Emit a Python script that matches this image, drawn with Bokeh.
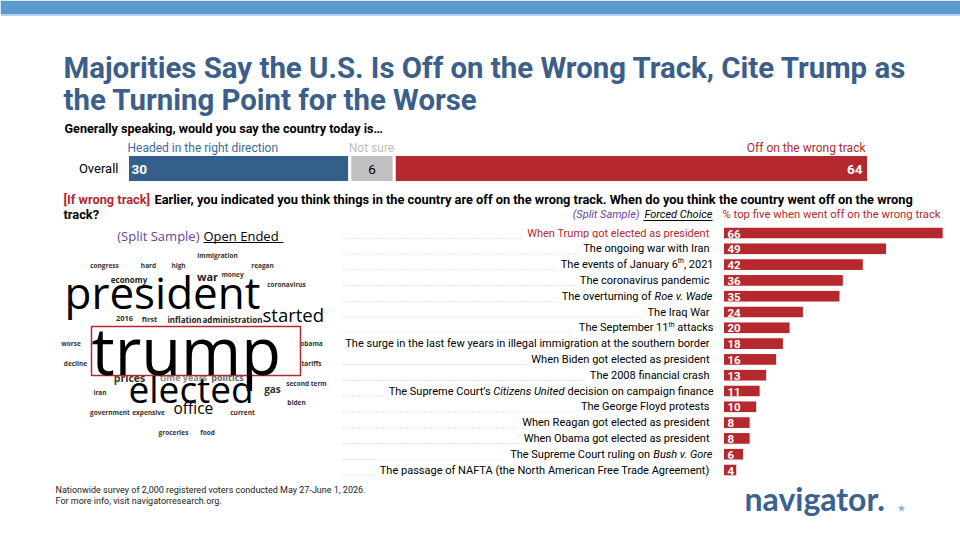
from bokeh.plotting import figure
from bokeh.models import Range1d
from bokeh.core.properties import value
from bokeh.embed import file_html
from bokeh.resources import INLINE

# ---------------- data ----------------
title_lines = ["Majorities Say the U.S. Is Off on the Wrong Track, Cite Trump as",
               "the Turning Point for the Worse"]
question_1 = "Generally speaking, would you say the country today is\u2026"
track_row = "Overall"
track_labels = ["Headed in the right direction", "Not sure", "Off on the wrong track"]
track_values = [30, 6, 64]

question_2_tag = "[If wrong track]"
question_2_lines = ["Earlier, you indicated you think things in the country are off on the wrong track. "
                    "When do you think the country went off on the wrong",
                    "track?"]

left_head = ["(Split Sample)", "Open Ended"]
right_head = ["(Split Sample)", "Forced Choice", "% top five when went off on the wrong track"]

event_labels = [
    "When Trump got elected as president",
    "The ongoing war with Iran",
    "The events of January 6th, 2021",
    "The coronavirus pandemic",
    "The overturning of Roe v. Wade",
    "The Iraq War",
    "The September 11th attacks",
    "The surge in the last few years in illegal immigration at the southern border",
    "When Biden got elected as president",
    "The 2008 financial crash",
    "The Supreme Court\u2019s Citizens United decision on campaign finance",
    "The George Floyd protests",
    "When Reagan got elected as president",
    "When Obama got elected as president",
    "The Supreme Court ruling on Bush v. Gore",
    "The passage of NAFTA (the North American Free Trade Agreement)",
]
event_values = [66, 49, 42, 36, 35, 24, 20, 18, 16, 13, 11, 10, 8, 8, 6, 4]

# rich-text runs (italic titles, superscript ordinals) for some labels
event_runs = {
    2: [("The events of January 6", "n"), ("th", "sup"), (", 2021", "n")],
    4: [("The overturning of ", "n"), ("Roe v. Wade", "i")],
    6: [("The September 11", "n"), ("th", "sup"), (" attacks", "n")],
    10: [("The Supreme Court\u2019s ", "n"), ("Citizens United", "i"),
         (" decision on campaign finance", "n")],
    14: [("The Supreme Court ruling on ", "n"), ("Bush v. Gore", "i")],
}

cloud_big_words = ["president", "trump", "elected", "started", "office"]
cloud_mid_words = ["war", "economy", "inflation", "administration", "2016", "first",
                   "prices", "time years", "politics", "gas"]
cloud_small_words = ["immigration", "congress", "hard", "high", "reagan", "money",
                     "coronavirus", "worse", "decline", "obama", "tariffs", "second term",
                     "iran", "biden", "government", "expensive", "current", "groceries", "food"]

footer_lines = ["Nationwide survey of 2,000 registered voters conducted May 27-June 1, 2026.",
                "For more info, visit navigatorresearch.org."]
logo_text = "navigator."

# ---------------- layout / style ----------------
W, H = 960, 540
SANS = value("Roboto")
HUMAN = value("Open Sans")
BLUE = "#355f8b"
RED = "#b5282e"
GREY = "#c0c0c0"
TITLE_C = "#3b5f8a"
PURPLE = "#6b3fa0"

# approximate Roboto advance widths (units of 1/2048 em) for placing rich-text runs
_RW = {" ": 507, ",": 393, ".": 528, "\u2019": 393, "'": 349, "(": 684, ")": 695, "-": 553}
_RW.update({d: 1150 for d in "0123456789"})
_RW.update(dict(zip("ABCDEFGHIJKLMNOPQRSTUVWXYZ",
                    [1336, 1275, 1333, 1343, 1164, 1132, 1395, 1460, 557, 1130, 1284, 1102,
                     1788, 1460, 1408, 1292, 1408, 1261, 1217, 1222, 1328, 1303, 1817, 1284,
                     1230, 1226])))
_RW.update(dict(zip("abcdefghijklmnopqrstuvwxyz",
                    [1114, 1149, 1072, 1155, 1085, 711, 1149, 1128, 497, 489, 1038, 497, 1795,
                     1130, 1168, 1149, 1164, 693, 1056, 669, 1129, 992, 1537, 1014, 969, 1014])))
STYLE_W = {"n": 1.0, "i": 0.97, "sup": 1.0}


def text_w(s, size, st="n"):
    return sum(_RW.get(c, 1100) for c in s) / 2048.0 * size * STYLE_W[st]


p = figure(width=W, height=H, x_range=Range1d(0, W), y_range=Range1d(H, 0),
           output_backend="svg", toolbar_location=None, min_border=0,
           background_fill_color="white", border_fill_color="white")
p.axis.visible = False
p.grid.visible = False
p.outline_line_color = None

# top band
p.quad(left=[0], right=[W], top=[0], bottom=[14], fill_color="#5b9bd0", line_color=None)
p.quad(left=[0], right=[W], top=[14], bottom=[15.5], fill_color="#b9d3ec", line_color=None)

# title
p.text(x=[63, 63], y=[67, 99.5], text=title_lines, text_font=SANS, text_font_style="bold",
       text_font_size="29.4px", text_color=TITLE_C, text_baseline="middle")

# ---- top stacked bar ----
TOP_X0, TOP_X1 = 127, 868
top_scale = (TOP_X1 - TOP_X0) / sum(track_values)
p.extra_x_ranges["top"] = Range1d(-TOP_X0 / top_scale, (W - TOP_X0) / top_scale)
rights = []
acc = 0
for v in track_values:
    acc += v
    rights.append(acc)
lefts = [r - v for r, v in zip(rights, track_values)]
BAR_Y = 168
p.hbar(y=[BAR_Y] * 3, left=lefts, right=rights, height=28, x_range_name="top",
       fill_color=[BLUE, GREY, RED], line_color="white", line_width=3)

p.text(x=[64], y=[128], text=[question_1], text_font=SANS, text_font_style="bold",
       text_font_size="12.6px", text_color="black", text_baseline="middle")
p.text(x=[118], y=[BAR_Y], text=[track_row], text_font=SANS, text_font_size="13px",
       text_color="black", text_align="right", text_baseline="middle")
# segment labels above bar
p.text(x=[lefts[0]], y=[147], text=[track_labels[0]], x_range_name="top", text_font=SANS,
       text_font_size="12px", text_color="#3e6b9a", text_baseline="middle")
p.text(x=[lefts[1]], y=[147], text=[track_labels[1]], x_range_name="top", text_font=SANS,
       text_font_size="12px", text_color="#bdbdbd", text_baseline="middle", x_offset=-1)
p.text(x=[rights[2]], y=[147], text=[track_labels[2]], x_range_name="top", text_font=SANS,
       text_font_size="12px", text_color=RED, text_baseline="middle", text_align="right",
       x_offset=-3)
# values inside bar
p.text(x=[lefts[0]], y=[BAR_Y + 1], text=[str(track_values[0])], x_range_name="top",
       text_font=SANS, text_font_style="bold", text_font_size="13.5px", text_color="white",
       text_baseline="middle", x_offset=4)
p.text(x=[(lefts[1] + rights[1]) / 2], y=[BAR_Y + 1], text=[str(track_values[1])],
       x_range_name="top", text_font=SANS, text_font_size="13.5px", text_color="black",
       text_baseline="middle", text_align="center")
p.text(x=[rights[2]], y=[BAR_Y + 1], text=[str(track_values[2])], x_range_name="top",
       text_font=SANS, text_font_style="bold", text_font_size="13.5px", text_color="white",
       text_baseline="middle", text_align="right", x_offset=-6)

# ---- second question ----
p.text(x=[63], y=[199], text=[question_2_tag], text_font=SANS, text_font_style="bold",
       text_font_size="12.8px", text_color=RED, text_baseline="middle")
p.text(x=[154, 63], y=[199, 214], text=question_2_lines, text_font=SANS,
       text_font_style="bold", text_font_size="12.8px", text_color="black",
       text_baseline="middle")

# right header
p.text(x=[639], y=[214], text=[right_head[0]], text_font=SANS, text_font_style="italic",
       text_font_size="11px", text_color=PURPLE, text_align="right", text_baseline="middle")
p.text(x=[712], y=[214], text=[right_head[1]], text_font=SANS, text_font_style="italic",
       text_font_size="11px", text_color="black", text_align="right", text_baseline="middle")
p.segment(x0=[643], x1=[712], y0=[220], y1=[220], line_color="black", line_width=1)
p.text(x=[722], y=[214], text=[right_head[2]], text_font=SANS, text_font_size="11.3px",
       text_color=RED, text_baseline="middle")

# ---- right bar chart ----
EV_X0, EV_XMAX = 723, 942.7
ev_scale = (EV_XMAX - EV_X0) / max(event_values)
p.extra_x_ranges["ev"] = Range1d(-EV_X0 / ev_scale, (W - EV_X0) / ev_scale)
ROW0, ROW_STEP = 232.5, 15.8
p.extra_y_ranges["rows"] = Range1d((H - ROW0) / ROW_STEP, -ROW0 / ROW_STEP)
idx = list(range(len(event_values)))
LBL_X, LBL_SIZE, SUP_SIZE = 713, 11.0, 7.0

# rich-text runs laid out right-to-left
run_x = {"n": [], "i": [], "sup": []}
run_y = {"n": [], "i": [], "sup": []}
run_t = {"n": [], "i": [], "sup": []}
dot_end = {}
sp = text_w(" ", LBL_SIZE)
for i, runs in event_runs.items():
    x = LBL_X
    for k, (txt, st) in enumerate(reversed(runs)):
        t = txt.strip()
        if txt.endswith(" "):
            x -= sp
        size = SUP_SIZE if st == "sup" else LBL_SIZE
        # italic glyphs lean right: pull a trailing italic run in by a pixel
        shift = 1 if (st == "i" and k == 0) else 0
        run_x[st].append(x - shift)
        run_y[st].append(i - 0.2 if st == "sup" else i)
        run_t[st].append(t)
        x -= text_w(t, size, st) + shift
        if txt.startswith(" "):
            x -= sp
    dot_end[i] = x - 5

p.segment(x0=[343] * len(idx), x1=[dot_end.get(i, LBL_X) for i in idx],
          y0=[i + 0.33 for i in idx], y1=[i + 0.33 for i in idx], y_range_name="rows",
          line_color="#c4c4c4", line_width=1, line_dash="1 2")

plain = [i for i in idx if i not in event_runs]
p.text(x=[LBL_X] * len(plain), y=plain, text=[event_labels[i] for i in plain],
       y_range_name="rows", text_font=SANS, text_font_size=f"{LBL_SIZE}px",
       text_color=[RED if i == 0 else "black" for i in plain], text_align="right",
       text_baseline="middle", background_fill_color="white", padding=4)
p.text(x=run_x["n"], y=run_y["n"], text=run_t["n"], y_range_name="rows", text_font=SANS,
       text_font_size=f"{LBL_SIZE}px", text_color="black", text_align="right",
       text_baseline="middle")
p.text(x=run_x["i"], y=run_y["i"], text=run_t["i"], y_range_name="rows", text_font=SANS,
       text_font_style="italic", text_font_size=f"{LBL_SIZE}px", text_color="black",
       text_align="right", text_baseline="middle")
p.text(x=run_x["sup"], y=run_y["sup"], text=run_t["sup"], y_range_name="rows",
       text_font=SANS, text_font_size=f"{SUP_SIZE}px", text_color="black",
       text_align="right", text_baseline="middle")

p.hbar(y=idx, left=0, right=event_values, height=0.74, x_range_name="ev",
       y_range_name="rows", fill_color=RED, line_color="white", line_width=1)
p.text(x=[0] * len(idx), y=[i + 0.04 for i in idx], text=[str(v) for v in event_values],
       x_range_name="ev", y_range_name="rows", text_font=SANS, text_font_style="bold",
       text_font_size="11.5px", text_color="white", text_baseline="middle", x_offset=4)

# ---- word cloud ----
p.text(x=[199], y=[235], text=[left_head[0]], text_font=HUMAN, text_font_size="13px",
       text_color=PURPLE, text_align="right", text_baseline="middle")
p.text(x=[203], y=[235], text=[left_head[1]], text_font=HUMAN, text_font_size="13px",
       text_color="black", text_baseline="middle")
p.segment(x0=[203], x1=[283], y0=[242], y1=[242], line_color="black", line_width=1)

small_x = [217, 104, 148, 178, 262, 232, 286, 70.5, 75, 311, 311, 306, 99.5, 296, 109.5, 148,
           242, 173, 207]
small_y = [255, 265, 265, 265, 265, 274, 284, 343, 363, 343, 363, 383, 392, 402, 412, 412,
           412, 432, 432]
p.text(x=small_x, y=small_y, text=cloud_small_words, text_font=HUMAN, text_font_style="bold",
       text_font_size="6.5px", text_color="#333333", text_align="center",
       text_baseline="middle")

mid_x = [207, 128.5, 184, 232, 124, 149, 129, 183, 227, 272]
mid_y = [276, 279, 319, 319, 318, 318, 377, 377, 377, 388]
mid_size = ["11px", "8px", "8px", "8px", "7.5px", "7.5px", "10.5px", "9px", "9px", "10px"]
mid_color = ["#222222", "#222222", "#222222", "#222222", "#333333", "#333333", "#333333",
             "#8a8a8a", "#666666", "#333333"]
p.text(x=mid_x, y=mid_y, text=cloud_mid_words, text_font=HUMAN, text_font_style="bold",
       text_font_size=mid_size, text_color=mid_color, text_align="center",
       text_baseline="middle")

# highlight box behind "trump"
p.quad(left=[91], right=[300], top=[326], bottom=[375], fill_color="white",
       line_color="#b5282e", line_width=1.5)

big_x = [64, 91, 128, 262, 173]
big_y = [291, 349, 388, 314, 407]
big_size = ["44px", "65px", "37px", "18.5px", "15.5px"]
p.text(x=big_x, y=big_y, text=cloud_big_words, text_font=HUMAN, text_font_size=big_size,
       text_color="black", text_baseline="middle")

# ---- footer ----
p.text(x=[55, 55], y=[489, 500], text=footer_lines, text_font=SANS, text_font_size="9px",
       text_color="#222222", text_baseline="middle")
p.text(x=[744], y=[498], text=[logo_text], text_font=value("Lato"), text_font_style="bold",
       text_font_size="32px", text_color="#3a6291", text_baseline="middle")
p.scatter(x=[901], y=[508], marker="star", size=8, fill_color="#7fb0dc", line_color=None)

open("out.html", "w").write(file_html(p, INLINE))
